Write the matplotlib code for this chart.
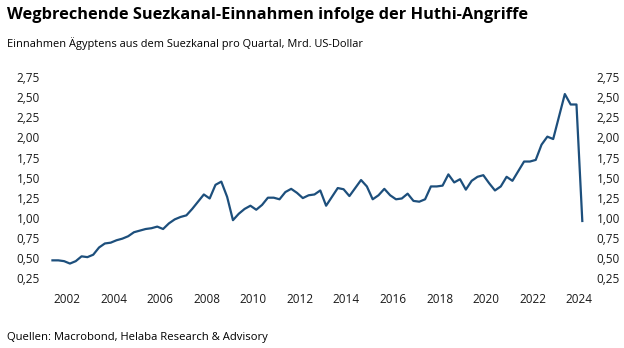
import numpy as np
import matplotlib.pyplot as plt
from matplotlib import ticker

# quarterly Suez canal revenue, 2001Q2 .. 2024Q1 (bn USD)
start_year = 2001
start_quarter = 2
revenue = [
    0.47, 0.47, 0.46, 0.43, 0.46, 0.52, 0.51, 0.54, 0.63, 0.68,
    0.69, 0.72, 0.74, 0.77, 0.82, 0.84, 0.86, 0.87, 0.89, 0.86,
    0.93, 0.98, 1.01, 1.03, 1.11, 1.20, 1.29, 1.24, 1.41, 1.45,
    1.26, 0.97, 1.05, 1.11, 1.15, 1.10, 1.16, 1.25, 1.25, 1.23,
    1.32, 1.36, 1.31, 1.245, 1.28, 1.29, 1.34, 1.15, 1.26, 1.37,
    1.355, 1.27, 1.37, 1.47, 1.39, 1.23, 1.28, 1.36, 1.28, 1.23,
    1.24, 1.30, 1.21, 1.20, 1.23, 1.39, 1.39, 1.40, 1.54, 1.44,
    1.48, 1.35, 1.46, 1.51, 1.53, 1.43, 1.34, 1.39, 1.51, 1.46,
    1.58, 1.70, 1.70, 1.72, 1.91, 2.01, 1.98, 2.26, 2.54, 2.41,
    2.41, 0.96,
]
year_ticks = list(range(2002, 2025, 2))
value_ticks = [0.25, 0.5, 0.75, 1.0, 1.25, 1.5, 1.75, 2.0, 2.25, 2.5, 2.75]

# mid-quarter positions
t = start_year + (start_quarter - 1) / 4 + 0.125 + np.arange(len(revenue)) / 4

plt.rcParams['font.family'] = ['Open Sans', 'DejaVu Sans']

fig = plt.figure(figsize=(6.24, 3.48), dpi=100)
ax = fig.add_axes([0.0753, 0.181, 0.870, 0.618])

ax.plot(t, revenue, color='#1d4f7c', linewidth=1.6)

ax.set_xlim(2001.14, 2024.45)
ax.set_ylim(0.163, 2.84)
ax.set_xticks(year_ticks)
ax.set_yticks(value_ticks)
ax.yaxis.set_major_formatter(ticker.FuncFormatter(lambda v, p: f'{v:.2f}'.replace('.', ',')))
ax.tick_params(axis='both', length=0, labelsize=8.5, colors='#1a1a1a')
ax.tick_params(axis='y', labelleft=True, labelright=True, pad=5)
ax.tick_params(axis='x', pad=6)
for s in ax.spines.values():
    s.set_visible(False)

fig.text(0.011, 0.957, 'Wegbrechende Suezkanal-Einnahmen infolge der Huthi-Angriffe',
         fontsize=11.8, fontweight='bold', va='center', ha='left', color='#000000')
fig.text(0.011, 0.874, 'Einnahmen Ägyptens aus dem Suezkanal pro Quartal, Mrd. US-Dollar',
         fontsize=7.9, va='center', ha='left', color='#000000')
fig.text(0.011, 0.03, 'Quellen: Macrobond, Helaba Research & Advisory',
         fontsize=8.1, va='center', ha='left', color='#000000')

fig.savefig('out.png', dpi=100)
